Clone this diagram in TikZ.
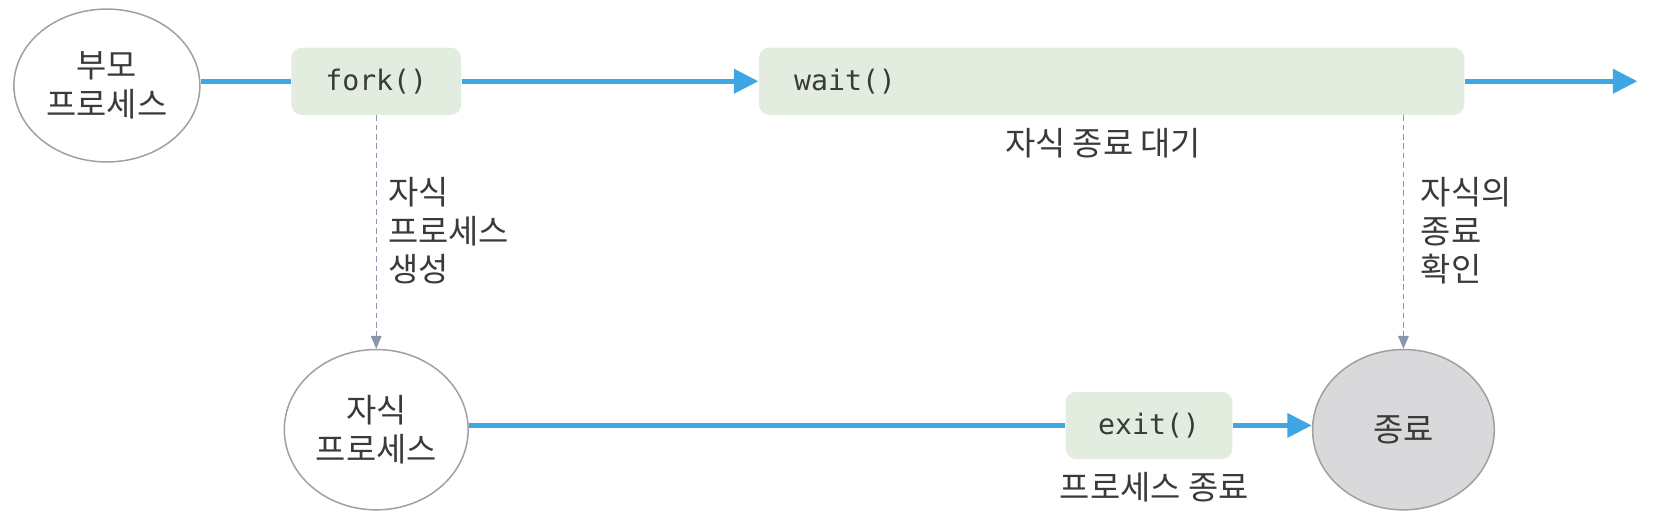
\documentclass[tikz,border=0pt]{standalone}
\usepackage{fontspec}
\setmainfont{Noto Sans CJK KR}
\newfontfamily\codefont{DejaVu Sans Mono}
\usetikzlibrary{arrows.meta,shapes.geometric}

\definecolor{flowblue}{HTML}{3FA6E6}
\definecolor{callgreen}{HTML}{E2ECDF}
\definecolor{edgegray}{HTML}{A0A0A0}
\definecolor{endgray}{HTML}{D9D9DB}
\definecolor{linkgray}{HTML}{8A96AC}
\definecolor{txtgray}{HTML}{3A3A3A}

\begin{document}
\begin{tikzpicture}[x=0.2mm, y=-0.2mm,
		every node/.style={text=txtgray, font=\fontsize{17.5}{20.5}\selectfont},
		proc/.style={ellipse, draw=edgegray, line width=0.8pt, align=center, inner sep=0pt},
		call/.style={rounded corners=2mm, fill=callgreen, minimum height=12.6mm, inner sep=0pt, font=\codefont\fontsize{15}{18}\selectfont},
		flow/.style={line width=1mm, draw=flowblue},
		link/.style={densely dashed, draw=linkgray, line width=0.5pt, -{Triangle[length=2.4mm, width=2mm, fill=linkgray]}}
	]
	\useasboundingbox (0,0) rectangle (1568,481);

	\node[proc, minimum width=34.8mm, minimum height=28.6mm] (parent) at (100,80) {부모\\프로세스};
	\node[call, minimum width=31.8mm] (fork) at (352,76) {fork()};
	\node[call, minimum width=132mm, text width=118.8mm, align=left, inner xsep=6.6mm] (wait) at (1040,76) {wait()};
	\coordinate (out) at (1532,76);

	\node[proc, minimum width=34.4mm, minimum height=30mm] (child) at (352,402) {자식\\프로세스};
	\node[call, minimum width=31.2mm] (exit) at (1075,398) {exit()};
	\node[proc, fill=endgray, minimum width=34mm, minimum height=30mm] (end) at (1313,402) {종료};

	\node (waitlbl) at (1032,134) {자식 종료 대기};
	\node (exitlbl) at (1080,456) {프로세스 종료};
	\node[anchor=west, align=left] (forklbl) at (357,216) {자식\\프로세스\\생성};
	\node[anchor=west, align=left] (endlbl) at (1323,216) {자식의\\종료\\확인};

	\draw[flow] (parent.east |- fork) -- (fork.west);
	\draw[flow, -{Triangle[length=4.6mm, width=4.4mm]}] (fork.east) -- (wait.west);
	\draw[flow, -{Triangle[length=4.6mm, width=4.4mm]}] (wait.east) -- (out);
	\draw[flow] (child.east |- exit) -- (exit.west);
	\draw[flow, -{Triangle[length=4.6mm, width=4.4mm]}] (exit.east) -- (end.west |- exit);

	\draw[link] (fork.south) -- (child.north);
	\draw[link] (wait.south -| end) -- (end.north);
\end{tikzpicture}
\end{document}
